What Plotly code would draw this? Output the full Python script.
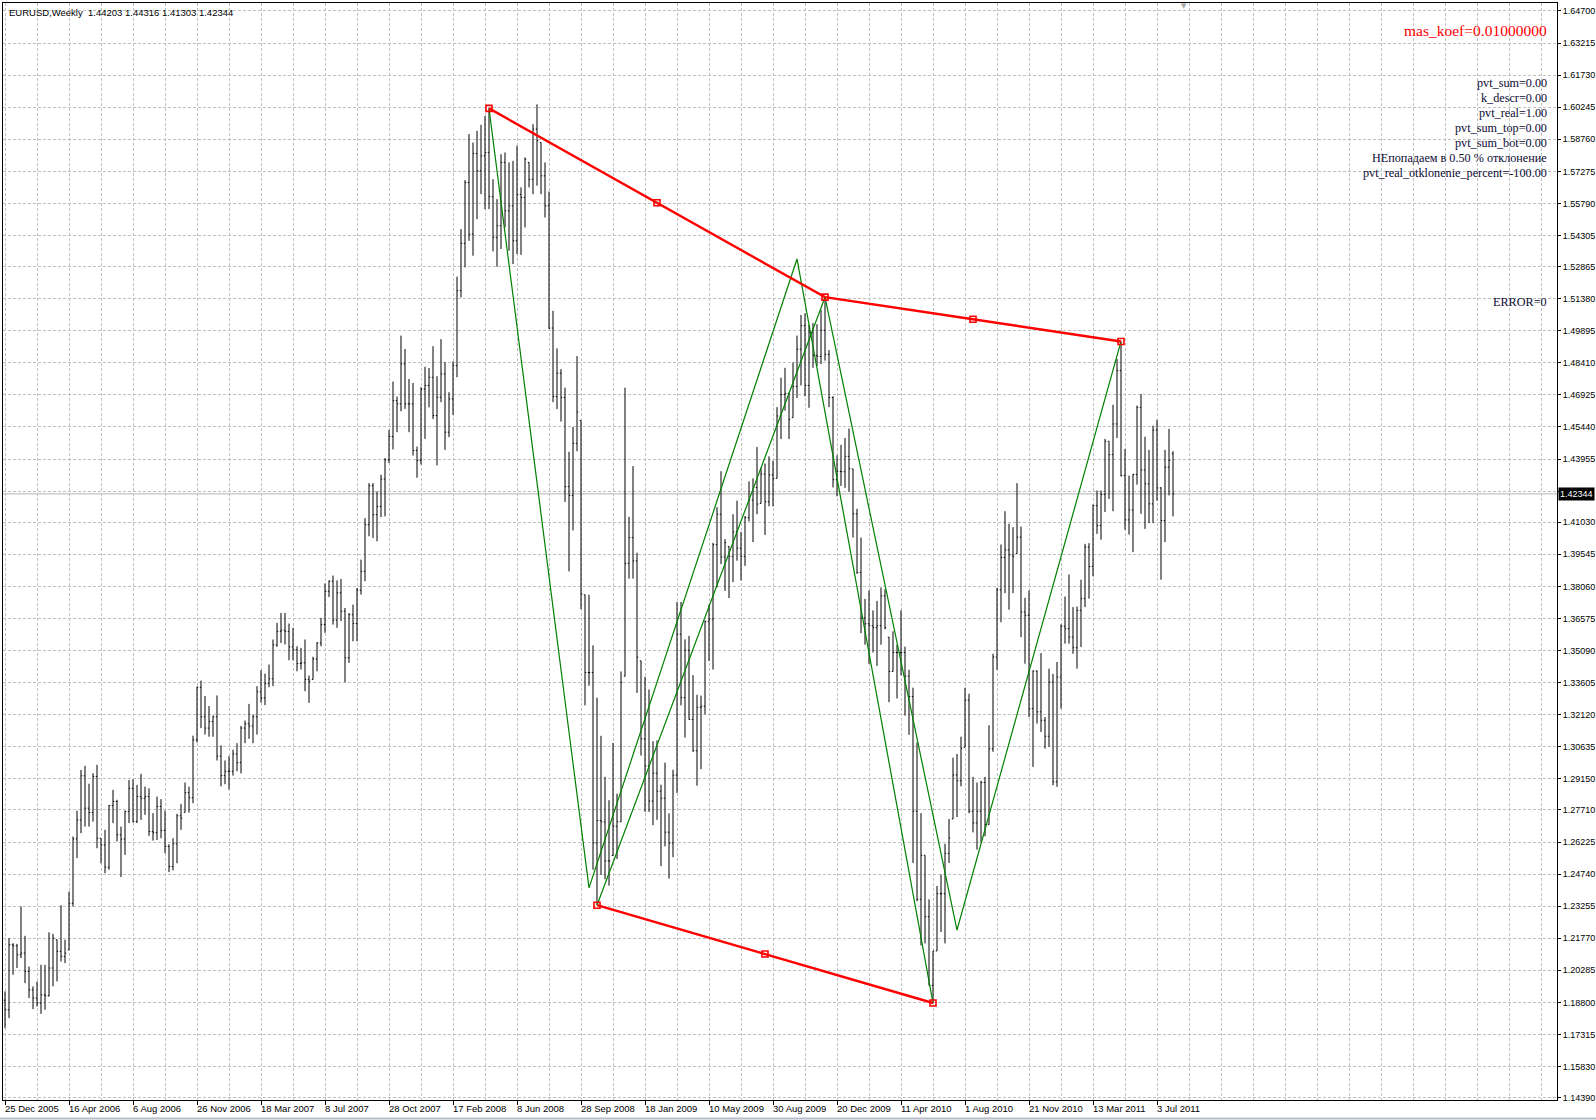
import plotly.graph_objects as go

# ---------------- data ----------------
OPEN = [
    1.1890, 1.1846, 1.2147, 1.2142, 1.2100, 1.2108, 1.2023, 1.1938, 1.1900, 1.1877,
    1.1915, 1.1911, 1.2039, 1.2170, 1.2116, 1.2093, 1.2123, 1.2339, 1.2637, 1.2725,
    1.2929, 1.2779, 1.2759, 1.2926, 1.2640, 1.2609, 1.2506, 1.2791, 1.2810, 1.2656,
    1.2636, 1.2764, 1.2871, 1.2717, 1.2833, 1.2825, 1.2833, 1.2671, 1.2666, 1.2787,
    1.2676, 1.2602, 1.2509, 1.2614, 1.2744, 1.2760, 1.2851, 1.2828, 1.3095, 1.3339,
    1.3202, 1.3150, 1.3180, 1.3202, 1.3020, 1.2930, 1.2950, 1.2950, 1.3030, 1.2990,
    1.3150, 1.3170, 1.3160, 1.3202, 1.3318, 1.3290, 1.3356, 1.3378, 1.3535, 1.3598,
    1.3603, 1.3598, 1.3526, 1.3513, 1.3449, 1.3452, 1.3375, 1.3375, 1.3470, 1.3544,
    1.3629, 1.3783, 1.3830, 1.3650, 1.3776, 1.3691, 1.3475, 1.3675, 1.3634, 1.3788,
    1.3876, 1.4092, 1.4272, 1.4138, 1.4176, 1.4303, 1.4392, 1.4500, 1.4666, 1.4651,
    1.4836, 1.4651, 1.4651, 1.4435, 1.4389, 1.4720, 1.4736, 1.4774, 1.4597, 1.4682,
    1.4790, 1.4520, 1.4674, 1.4828, 1.5175, 1.5394, 1.5676, 1.5437, 1.5810, 1.5730,
    1.5799, 1.5815, 1.5610, 1.5422, 1.5476, 1.5769, 1.5545, 1.5568, 1.5406, 1.5620,
    1.5607, 1.5769, 1.5691, 1.5923, 1.5861, 1.5707, 1.5568, 1.5002, 1.4685, 1.4793,
    1.4680, 1.4268, 1.4227, 1.4468, 1.4574, 1.3767, 1.3407, 1.3407, 1.2618, 1.2722,
    1.2716, 1.2535, 1.2560, 1.2695, 1.2716, 1.3390, 1.3913, 1.4032, 1.3924, 1.3461,
    1.3100, 1.2974, 1.2812, 1.2941, 1.2858, 1.2825, 1.2668, 1.2618, 1.2932, 1.3585,
    1.3291, 1.3511, 1.3190, 1.3045, 1.3246, 1.3251, 1.3643, 1.3655, 1.3999, 1.4140,
    1.3942, 1.3991, 1.3945, 1.4058, 1.3983, 1.3945, 1.4124, 1.4206, 1.4264, 1.4190,
    1.4326, 1.4198, 1.4322, 1.4306, 1.4595, 1.4694, 1.4699, 1.4587, 1.4732, 1.4904,
    1.5013, 1.4736, 1.4984, 1.4876, 1.4871, 1.4992, 1.4880, 1.4680, 1.4300, 1.4339,
    1.4337, 1.4408, 1.4350, 1.4142, 1.3870, 1.3660, 1.3633, 1.3624, 1.3615, 1.3624,
    1.3762, 1.3571, 1.3412, 1.3500, 1.3500, 1.3500, 1.3390, 1.3296, 1.2765, 1.2357,
    1.2561, 1.2277, 1.1958, 1.2118, 1.2383, 1.2383, 1.2570, 1.2729, 1.2933, 1.2906,
    1.3061, 1.3279, 1.2765, 1.2711, 1.2765, 1.2898, 1.2703, 1.3054, 1.3479, 1.3790,
    1.3940, 1.3975, 1.3952, 1.3957, 1.4034, 1.3687, 1.3672, 1.3240, 1.3414, 1.3225,
    1.3186, 1.3112, 1.3363, 1.2901, 1.3386, 1.3621, 1.3610, 1.3571, 1.3522, 1.3695,
    1.3749, 1.3988, 1.3898, 1.4180, 1.4088, 1.4231, 1.4478, 1.4416, 1.4558, 1.4805,
    1.4319, 1.4114, 1.4160, 1.4324, 1.4635, 1.4345, 1.4281, 1.4188, 1.4530, 1.4262,
    1.4111, 1.4358, 1.44203,
]
HIGH = [
    1.1931, 1.2177, 1.2154, 1.2151, 1.2324, 1.2188, 1.2046, 1.1954, 1.1977, 1.2054,
    1.2054, 1.2204, 1.2197, 1.2170, 1.2330, 1.2170, 1.2393, 1.2648, 1.2768, 1.2956,
    1.2975, 1.2892, 1.2941, 1.2980, 1.2640, 1.2679, 1.2794, 1.2864, 1.2818, 1.2694,
    1.2768, 1.2910, 1.2913, 1.2887, 1.2938, 1.2879, 1.2871, 1.2756, 1.2833, 1.2821,
    1.2768, 1.2612, 1.2640, 1.2753, 1.2799, 1.2898, 1.2879, 1.3115, 1.3342, 1.3370,
    1.3298, 1.3252, 1.3208, 1.3301, 1.3070, 1.3000, 1.3020, 1.3050, 1.3080, 1.3160,
    1.3185, 1.3262, 1.3213, 1.3344, 1.3418, 1.3402, 1.3444, 1.3560, 1.3637, 1.3683,
    1.3683, 1.3634, 1.3614, 1.3529, 1.3521, 1.3560, 1.3393, 1.3480, 1.3547, 1.3660,
    1.3819, 1.3834, 1.3856, 1.3834, 1.3840, 1.3706, 1.3683, 1.3722, 1.3799, 1.3930,
    1.4122, 1.4284, 1.4284, 1.4246, 1.4323, 1.4400, 1.4530, 1.4754, 1.4685, 1.4967,
    1.4905, 1.4766, 1.4748, 1.4453, 1.4728, 1.4823, 1.4817, 1.4918, 1.4779, 1.4951,
    1.4844, 1.4705, 1.4848, 1.5240, 1.5460, 1.5687, 1.5900, 1.5861, 1.5915, 1.5943,
    1.5984, 1.6019, 1.5691, 1.5599, 1.5807, 1.5815, 1.5769, 1.5776, 1.5846, 1.5653,
    1.5792, 1.5769, 1.5946, 1.6038, 1.5861, 1.5769, 1.5634, 1.5082, 1.4908, 1.4812,
    1.4726, 1.4429, 1.4544, 1.4872, 1.4574, 1.3767, 1.3767, 1.3533, 1.3291, 1.3114,
    1.2924, 1.2816, 1.3081, 1.2846, 1.3412, 1.4726, 1.4128, 1.4363, 1.3962, 1.3461,
    1.3387, 1.3329, 1.3089, 1.3093, 1.2888, 1.2990, 1.2755, 1.2957, 1.3734, 1.3734,
    1.3561, 1.3577, 1.3395, 1.3304, 1.3300, 1.3648, 1.3721, 1.4008, 1.4173, 1.4339,
    1.4025, 1.3991, 1.4140, 1.4203, 1.4058, 1.4132, 1.4292, 1.4306, 1.4451, 1.4355,
    1.4375, 1.4408, 1.4388, 1.4636, 1.4772, 1.4818, 1.4703, 1.4843, 1.4967, 1.5063,
    1.5070, 1.5017, 1.5025, 1.5020, 1.5086, 1.5145, 1.4900, 1.4686, 1.4413, 1.4461,
    1.4493, 1.4537, 1.4350, 1.4165, 1.4032, 1.3748, 1.3787, 1.3695, 1.3739, 1.3801,
    1.3793, 1.3571, 1.3598, 1.3536, 1.3695, 1.3527, 1.3420, 1.3337, 1.3084, 1.2756,
    1.2561, 1.2357, 1.2118, 1.2419, 1.2472, 1.2614, 1.2729, 1.3013, 1.3030, 1.3110,
    1.3337, 1.3309, 1.2924, 1.2898, 1.2906, 1.2924, 1.3163, 1.3494, 1.3800, 1.4000,
    1.4154, 1.4096, 1.4080, 1.4284, 1.4083, 1.3753, 1.3787, 1.3417, 1.3417, 1.3497,
    1.3201, 1.3425, 1.3401, 1.3456, 1.3630, 1.3759, 1.3861, 1.3710, 1.3713, 1.3837,
    1.4003, 1.4006, 1.4185, 1.4250, 1.4250, 1.4489, 1.4478, 1.4647, 1.4859, 1.4940,
    1.4442, 1.4319, 1.4327, 1.4643, 1.4697, 1.4499, 1.4438, 1.4550, 1.4577, 1.4265,
    1.4438, 1.4535, 1.44316,
]
LOW = [
    1.1761, 1.1807, 1.2008, 1.2039, 1.2085, 1.1969, 1.1900, 1.1849, 1.1861, 1.1827,
    1.1846, 1.1907, 1.1954, 1.1977, 1.2069, 1.2062, 1.2123, 1.2324, 1.2548, 1.2663,
    1.2694, 1.2694, 1.2717, 1.2594, 1.2524, 1.2478, 1.2494, 1.2710, 1.2625, 1.2460,
    1.2563, 1.2710, 1.2713, 1.2710, 1.2725, 1.2748, 1.2651, 1.2629, 1.2632, 1.2640,
    1.2571, 1.2483, 1.2491, 1.2524, 1.2679, 1.2760, 1.2759, 1.2802, 1.3083, 1.3150,
    1.3120, 1.3110, 1.3110, 1.3000, 1.2880, 1.2890, 1.2866, 1.2930, 1.2950, 1.2940,
    1.3080, 1.3100, 1.3080, 1.3120, 1.3267, 1.3256, 1.3339, 1.3344, 1.3526, 1.3544,
    1.3537, 1.3464, 1.3464, 1.3413, 1.3421, 1.3321, 1.3267, 1.3375, 1.3413, 1.3529,
    1.3591, 1.3757, 1.3629, 1.3614, 1.3645, 1.3362, 1.3452, 1.3552, 1.3552, 1.3768,
    1.3830, 1.4038, 1.4030, 1.4015, 1.4127, 1.4130, 1.4377, 1.4440, 1.4520, 1.4617,
    1.4628, 1.4520, 1.4412, 1.4309, 1.4370, 1.4489, 1.4635, 1.4581, 1.4366, 1.4659,
    1.4438, 1.4497, 1.4600, 1.4774, 1.5144, 1.5283, 1.5406, 1.5337, 1.5506, 1.5622,
    1.5553, 1.5553, 1.5357, 1.5286, 1.5368, 1.5468, 1.5360, 1.5298, 1.5345, 1.5341,
    1.5468, 1.5653, 1.5622, 1.5661, 1.5622, 1.5514, 1.4998, 1.4659, 1.4627, 1.4569,
    1.4197, 1.3875, 1.4065, 1.4432, 1.3701, 1.3255, 1.3346, 1.2494, 1.2330, 1.2470,
    1.2450, 1.2420, 1.2560, 1.2544, 1.2716, 1.3390, 1.3842, 1.3842, 1.3313, 1.3023,
    1.2762, 1.2762, 1.2700, 1.2725, 1.2511, 1.2602, 1.2453, 1.2552, 1.2850, 1.3255,
    1.3106, 1.3189, 1.3040, 1.2883, 1.2960, 1.3213, 1.3461, 1.3421, 1.3801, 1.3909,
    1.3785, 1.3752, 1.3826, 1.3925, 1.3834, 1.3901, 1.4107, 1.4011, 1.4140, 1.4190,
    1.4044, 1.4177, 1.4177, 1.4306, 1.4488, 1.4620, 1.4488, 1.4587, 1.4678, 1.4736,
    1.4686, 1.4633, 1.4818, 1.4827, 1.4835, 1.4851, 1.4636, 1.4264, 1.4223, 1.4271,
    1.4262, 1.4245, 1.4032, 1.3864, 1.3589, 1.3536, 1.3447, 1.3500, 1.3438, 1.3536,
    1.3607, 1.3270, 1.3412, 1.3287, 1.3394, 1.3208, 1.3119, 1.2525, 1.2348, 1.2144,
    1.2153, 1.1958, 1.1877, 1.2118, 1.2206, 1.2153, 1.2525, 1.2729, 1.2738, 1.2880,
    1.3061, 1.2756, 1.2667, 1.2587, 1.2623, 1.2649, 1.2703, 1.3040, 1.3420, 1.3640,
    1.3775, 1.3698, 1.3775, 1.3957, 1.3571, 1.3448, 1.3201, 1.2970, 1.3171, 1.3132,
    1.3055, 1.3063, 1.2885, 1.2878, 1.3240, 1.3541, 1.3541, 1.3494, 1.3425, 1.3525,
    1.3710, 1.3749, 1.3852, 1.4049, 1.4022, 1.4150, 1.4211, 1.4154, 1.4493, 1.4315,
    1.4068, 1.4046, 1.3965, 1.4277, 1.4142, 1.4072, 1.4099, 1.4099, 1.4203, 1.3837,
    1.4011, 1.4227, 1.41303,
]
CLOSE = [
    1.1846, 1.2147, 1.2142, 1.2100, 1.2108, 1.2023, 1.1938, 1.1900, 1.1877, 1.1915,
    1.1911, 1.2039, 1.2177, 1.2116, 1.2093, 1.2108, 1.2339, 1.2637, 1.2725, 1.2929,
    1.2779, 1.2759, 1.2926, 1.2640, 1.2609, 1.2506, 1.2791, 1.2810, 1.2656, 1.2636,
    1.2764, 1.2871, 1.2717, 1.2833, 1.2825, 1.2833, 1.2671, 1.2666, 1.2787, 1.2676,
    1.2602, 1.2509, 1.2614, 1.2744, 1.2733, 1.2851, 1.2828, 1.3095, 1.3339, 1.3202,
    1.3150, 1.3180, 1.3202, 1.3020, 1.2930, 1.2950, 1.2950, 1.3030, 1.2990, 1.3150,
    1.3170, 1.3160, 1.3202, 1.3318, 1.3290, 1.3356, 1.3378, 1.3535, 1.3598, 1.3603,
    1.3598, 1.3526, 1.3513, 1.3449, 1.3452, 1.3375, 1.3367, 1.3470, 1.3544, 1.3629,
    1.3783, 1.3830, 1.3650, 1.3776, 1.3691, 1.3475, 1.3675, 1.3634, 1.3788, 1.3876,
    1.4092, 1.4272, 1.4138, 1.4176, 1.4303, 1.4392, 1.4500, 1.4666, 1.4651, 1.4836,
    1.4651, 1.4651, 1.4435, 1.4389, 1.4720, 1.4736, 1.4774, 1.4597, 1.4682, 1.4790,
    1.4520, 1.4674, 1.4828, 1.5175, 1.5394, 1.5676, 1.5437, 1.5810, 1.5730, 1.5799,
    1.5815, 1.5610, 1.5422, 1.5476, 1.5769, 1.5545, 1.5568, 1.5406, 1.5620, 1.5607,
    1.5784, 1.5691, 1.5923, 1.5870, 1.5707, 1.5568, 1.5002, 1.4685, 1.4793, 1.4680,
    1.4268, 1.4227, 1.4468, 1.4614, 1.3772, 1.3407, 1.3407, 1.2618, 1.2722, 1.2716,
    1.2535, 1.2535, 1.2695, 1.2716, 1.3362, 1.3913, 1.4032, 1.3924, 1.3478, 1.3100,
    1.2974, 1.2812, 1.2941, 1.2858, 1.2825, 1.2668, 1.2618, 1.2932, 1.3585, 1.3291,
    1.3511, 1.3190, 1.3045, 1.3246, 1.3251, 1.3643, 1.3655, 1.3999, 1.4140, 1.3942,
    1.4008, 1.3945, 1.4058, 1.3983, 1.3945, 1.4124, 1.4206, 1.4264, 1.4187, 1.4326,
    1.4198, 1.4322, 1.4306, 1.4595, 1.4694, 1.4699, 1.4579, 1.4732, 1.4904, 1.5013,
    1.4736, 1.4984, 1.4876, 1.4871, 1.4992, 1.4880, 1.4680, 1.4300, 1.4339, 1.4337,
    1.4408, 1.4351, 1.4142, 1.3870, 1.3660, 1.3633, 1.3624, 1.3615, 1.3624, 1.3762,
    1.3615, 1.3412, 1.3500, 1.3500, 1.3500, 1.3390, 1.3296, 1.2765, 1.2357, 1.2561,
    1.2277, 1.1958, 1.2118, 1.2383, 1.2383, 1.2570, 1.2641, 1.2933, 1.2906, 1.3057,
    1.3279, 1.2765, 1.2711, 1.2765, 1.2898, 1.2703, 1.3054, 1.3479, 1.3790, 1.3940,
    1.3975, 1.3952, 1.3944, 1.4034, 1.3687, 1.3672, 1.3240, 1.3414, 1.3225, 1.3186,
    1.3112, 1.3363, 1.2901, 1.3386, 1.3621, 1.3610, 1.3571, 1.3522, 1.3695, 1.3749,
    1.3988, 1.3898, 1.4180, 1.4088, 1.4231, 1.4478, 1.4416, 1.4558, 1.4805, 1.4319,
    1.4114, 1.4160, 1.4324, 1.4635, 1.4345, 1.4281, 1.4188, 1.4530, 1.4262, 1.4111,
    1.4358, 1.4389, 1.42344,
]

X_LABELS = ["25 Dec 2005", "16 Apr 2006", "6 Aug 2006", "26 Nov 2006", "18 Mar 2007",
            "8 Jul 2007", "28 Oct 2007", "17 Feb 2008", "8 Jun 2008", "28 Sep 2008",
            "18 Jan 2009", "10 May 2009", "30 Aug 2009", "20 Dec 2009", "11 Apr 2010",
            "1 Aug 2010", "21 Nov 2010", "13 Mar 2011", "3 Jul 2011"]
X_LABEL_STEP = 16   # bars between date labels
X_GRID_STEP = 8     # bars between vertical grid lines

Y_LABELS = ["1.64700", "1.63215", "1.61730", "1.60245", "1.58760", "1.57275", "1.55790",
            "1.54305", "1.52865", "1.51380", "1.49895", "1.48410", "1.46925", "1.45440",
            "1.43955", "1.41030", "1.39545", "1.38060", "1.36575", "1.35090",
            "1.33605", "1.32120", "1.30635", "1.29150", "1.27710", "1.26225", "1.24740",
            "1.23255", "1.21770", "1.20285", "1.18800", "1.17315", "1.15830", "1.14390"]
Y_HIDDEN_GRID = 1.42470   # grid level whose label is covered by the price box

# indicator output: red pivot lines (with mid points) and green zigzags
RED_TOP_X = [121, 163, 205, 242, 279]
RED_TOP_Y = [1.6019, 1.5582, 1.5145, 1.5043, 1.4940]
RED_BOT_X = [148, 190, 232]
RED_BOT_Y = [1.2330, 1.2104, 1.1877]
GREEN1_X = [121, 146, 198, 232]
GREEN1_Y = [1.6019, 1.2410, 1.5322, 1.1877]
GREEN2_X = [148, 205, 238, 279]
GREEN2_Y = [1.2330, 1.5145, 1.2215, 1.4940]

LAST_PRICE = 1.42344
LAST_PRICE_TEXT = "1.42344"
TITLE = "EURUSD,Weekly  1.44203 1.44316 1.41303 1.42344"
KOEF_TEXT = "mas_koef=0.01000000"
INFO_LINES = ["pvt_sum=0.00", "k_descr=0.00", "pvt_real=1.00", "pvt_sum_top=0.00",
              "pvt_sum_bot=0.00", "НЕпопадаем в 0.50 % отклонение",
              "pvt_real_otklonenie_percent=-100.00"]
ERROR_TEXT = "ERROR=0"

# ---------------- layout geometry ----------------
W, H = 1596, 1120
ML, MR, MT, MB = 3, 39, 3, 20
X_RANGE = [-0.5, 388]
Y_RANGE = [1.1428, 1.6507]

def px_x(px):
    return (px - ML) / (W - ML - MR)

def px_y(py):
    return 1 - (py - MT) / (H - MT - MB)

AXIS_FONT = dict(family="Liberation Sans, Arial, sans-serif", size=9.5, color="black")
PRICE_FONT = dict(family="Liberation Sans, Arial, sans-serif", size=9, color="black")
SERIF = "Liberation Serif, Times New Roman, serif"
INFO_COLOR = "#0b0b33"
GRID_COLOR = "#c0c0c0"
GRID_DASH = "3px,2px"

idx = list(range(len(CLOSE)))

fig = go.Figure()
fig.add_trace(go.Ohlc(
    x=idx, open=OPEN, high=HIGH, low=LOW, close=CLOSE,
    increasing=dict(line=dict(color="black", width=1)),
    decreasing=dict(line=dict(color="black", width=1)),
    tickwidth=0.3, hoverinfo="skip", showlegend=False,
))
for gx, gy in ((GREEN1_X, GREEN1_Y), (GREEN2_X, GREEN2_Y)):
    fig.add_trace(go.Scatter(x=gx, y=gy, mode="lines",
                             line=dict(color="#008000", width=1.2),
                             hoverinfo="skip", showlegend=False))
for rx, ry in ((RED_TOP_X, RED_TOP_Y), (RED_BOT_X, RED_BOT_Y)):
    fig.add_trace(go.Scatter(x=rx, y=ry, mode="lines+markers",
                             line=dict(color="#ff0000", width=2.4),
                             marker=dict(symbol="square-open", size=6, color="#ff0000",
                                         line=dict(color="#ff0000", width=1.6)),
                             hoverinfo="skip", showlegend=False))

y_vals = [float(v) for v in Y_LABELS] + [Y_HIDDEN_GRID]
y_text = list(Y_LABELS) + [""]

major_x = [k * X_LABEL_STEP for k in range(len(X_LABELS))]
minor_x = list(range(0, int(X_RANGE[1]) + 1, X_GRID_STEP))

fig.update_layout(
    width=W, height=H,
    margin=dict(l=ML, r=MR, t=MT, b=MB, pad=0, autoexpand=False),
    paper_bgcolor="white", plot_bgcolor="white",
    showlegend=False,
    xaxis=dict(
        range=X_RANGE, rangeslider=dict(visible=False), automargin=False,
        tickvals=major_x, ticktext=[""] * len(major_x),
        ticks="outside", ticklen=4, tickcolor="black", tickwidth=1,
        showgrid=True, gridcolor=GRID_COLOR, griddash=GRID_DASH, gridwidth=1,
        minor=dict(tickvals=minor_x, showgrid=True, gridcolor=GRID_COLOR,
                   griddash=GRID_DASH, gridwidth=1, ticks=""),
        showline=True, linecolor="black", linewidth=1, mirror=True,
        zeroline=False, fixedrange=True,
    ),
    yaxis=dict(
        range=Y_RANGE, side="right", automargin=False,
        tickvals=y_vals, ticktext=y_text, tickfont=PRICE_FONT,
        ticks="outside", ticklen=3, tickcolor="black", tickwidth=1,
        showgrid=True, gridcolor=GRID_COLOR, griddash=GRID_DASH, gridwidth=1,
        showline=True, linecolor="black", linewidth=1, mirror=True,
        zeroline=False, fixedrange=True,
    ),
)

# current price line
fig.add_shape(type="line", xref="paper", x0=0, x1=1, yref="y", y0=LAST_PRICE, y1=LAST_PRICE,
              line=dict(color="#b4b4b4", width=1), layer="below")
# window frame line at the very bottom
fig.add_shape(type="line", xref="paper", x0=px_x(0), x1=px_x(W), yref="paper",
              y0=px_y(1118.5), y1=px_y(1118.5), line=dict(color="#b8bccc", width=2))

ann = []
# date labels, left aligned at their tick
for k, lab in enumerate(X_LABELS):
    ann.append(dict(x=k * X_LABEL_STEP, xref="x", y=0, yref="paper", yanchor="top",
                    xanchor="left", xshift=-2, yshift=-1, text=lab, showarrow=False,
                    font=AXIS_FONT))
# current price box
ann.append(dict(x=px_x(1558), xref="paper", y=LAST_PRICE, yref="y", xanchor="left",
                yanchor="middle", text=LAST_PRICE_TEXT, showarrow=False,
                bgcolor="black", borderpad=1,
                font=dict(family=PRICE_FONT["family"], size=9, color="white")))
# chart title
ann.append(dict(x=px_x(7), xref="paper", y=px_y(12.7), yref="paper", xanchor="left",
                yanchor="middle", text=TITLE, showarrow=False, font=AXIS_FONT))
# shift marker
ann.append(dict(x=px_x(1184), xref="paper", y=px_y(6), yref="paper", xanchor="center",
                yanchor="middle", text="▼", showarrow=False,
                font=dict(family="DejaVu Sans", size=7, color="#a8a8a8")))
# indicator texts
ann.append(dict(x=px_x(1549), xref="paper", y=px_y(30.7), yref="paper", xanchor="right",
                yanchor="middle", text=KOEF_TEXT, showarrow=False,
                font=dict(family=SERIF, size=15.5, color="#ff0000")))
for n, line in enumerate(INFO_LINES):
    ann.append(dict(x=px_x(1549), xref="paper", y=px_y(83.3 + 14.9 * n), yref="paper",
                    xanchor="right", yanchor="middle", text=line, showarrow=False,
                    font=dict(family=SERIF, size=12.2, color=INFO_COLOR)))
ann.append(dict(x=px_x(1549), xref="paper", y=px_y(302.4), yref="paper", xanchor="right",
                yanchor="middle", text=ERROR_TEXT, showarrow=False,
                font=dict(family=SERIF, size=12.2, color=INFO_COLOR)))
fig.update_layout(annotations=ann)

fig.write_html("out.html", config={"displayModeBar": False},
               post_script="document.body.style.margin='0';document.body.style.overflow='hidden';")
